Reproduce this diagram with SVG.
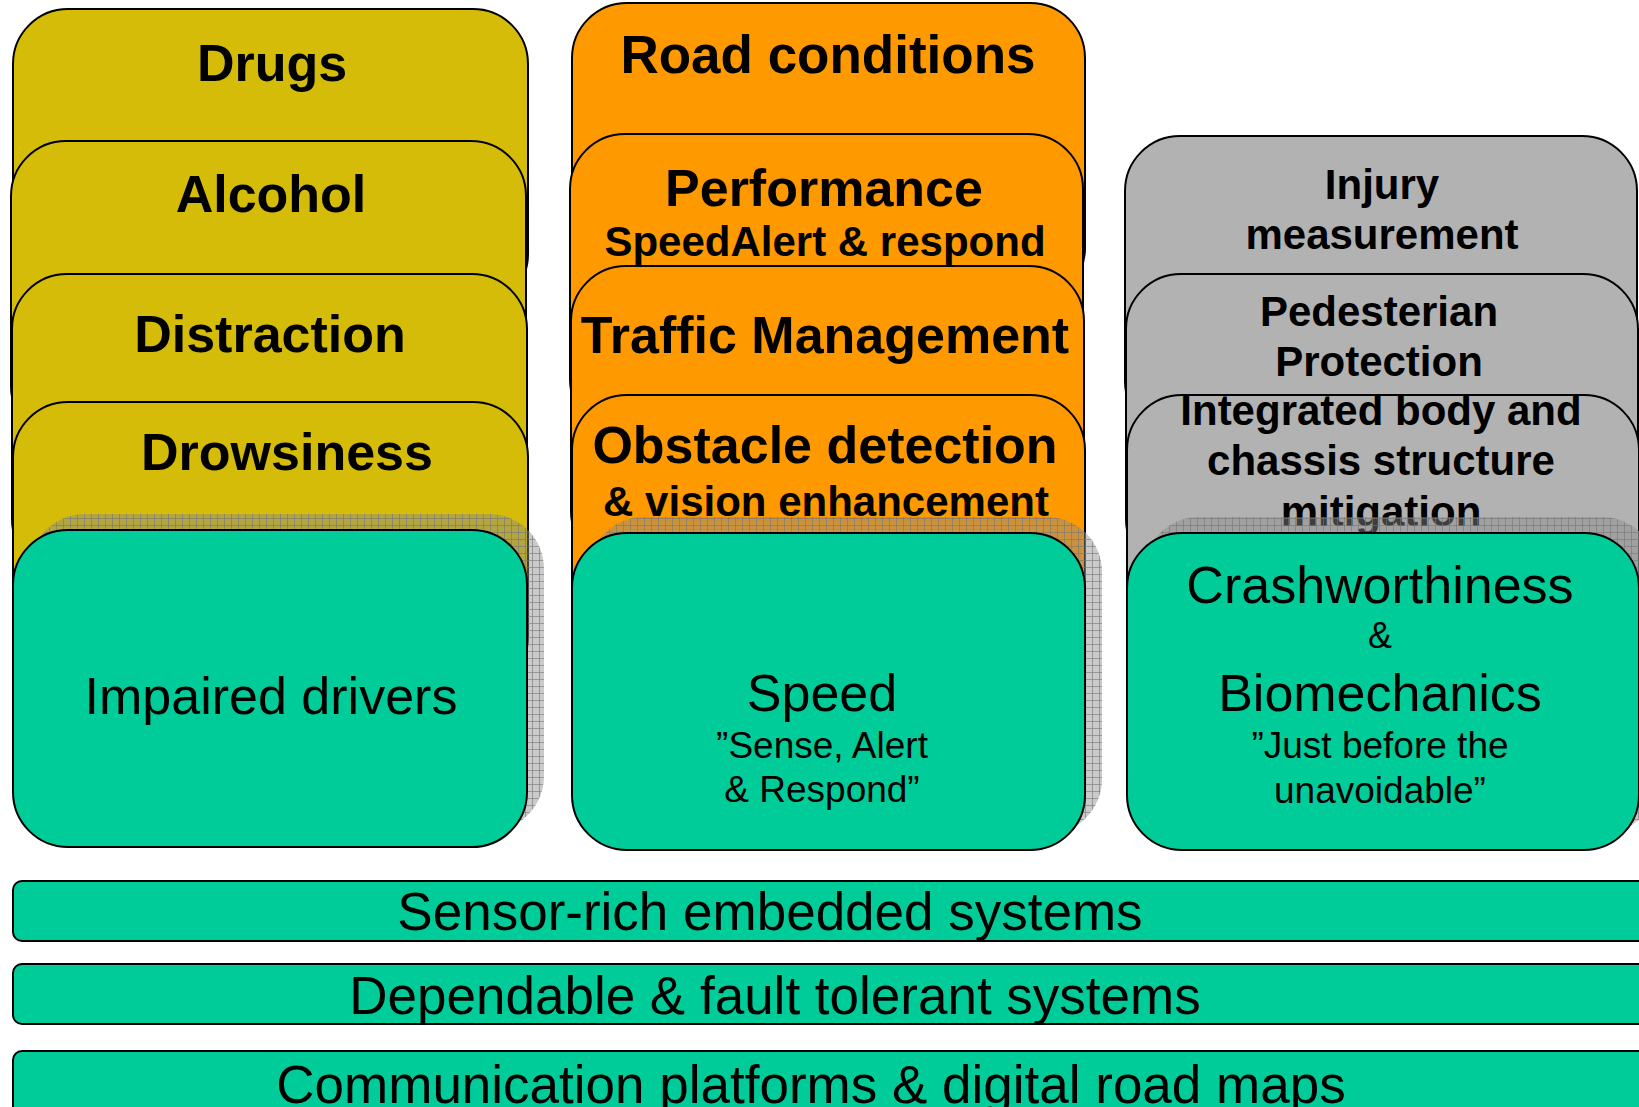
<svg xmlns="http://www.w3.org/2000/svg" width="1639" height="1107" viewBox="0 0 1639 1107">
<defs>
<pattern id="grid" width="7" height="7" patternUnits="userSpaceOnUse">
<rect width="7" height="7" fill="#8a8a8a" fill-opacity="0.45"/>
<path d="M0 0.5H7M0.5 0V7" stroke="#777" stroke-width="1" stroke-opacity="0.6"/>
</pattern>
</defs>
<style>
text{font-family:"Liberation Sans",Arial,sans-serif;text-anchor:middle;fill:#000}
.b{font-weight:bold}
.y{fill:#D4BC08;stroke:#000;stroke-width:2}
.o{fill:#FF9900;stroke:#000;stroke-width:2}
.g{fill:#B2B2B2;stroke:#000;stroke-width:2}
.t{fill:#00CC99;stroke:#000;stroke-width:2}
.sh{fill:url(#grid);stroke:none}
.h1{font-size:52px}
.h2{font-size:42px}
.m{font-size:52px}
.s{font-size:37px}
.bar{font-size:53px}
</style>

<g id="col1">
<g id="drugs"><rect class="y" x="13" y="9" width="515" height="300" rx="55"/><text class="b h1" x="272" y="81">Drugs</text></g>
<g id="alcohol"><rect class="y" x="11" y="141" width="515" height="300" rx="55"/><text class="b h1" x="271" y="212">Alcohol</text></g>
<g id="distraction"><rect class="y" x="12" y="274" width="515" height="300" rx="55"/><text class="b h1" x="270" y="352">Distraction</text></g>
<g id="drowsiness"><rect class="y" x="13" y="402" width="515" height="290" rx="55"/><text class="b h1" x="287" y="470">Drowsiness</text></g>
<g id="impaired"><rect class="sh" x="30" y="514" width="514" height="317" rx="55"/><rect class="t" x="13" y="530" width="514" height="317" rx="55"/><text class="m" x="271" y="714">Impaired drivers</text></g>
</g>

<g id="col2">
<g id="road"><rect class="o" x="572" y="3" width="513" height="300" rx="55"/><text class="b" font-size="53" x="828" y="73">Road conditions</text></g>
<g id="performance"><rect class="o" x="570" y="134" width="513" height="300" rx="55"/><text class="b h1" x="824" y="206">Performance</text><text class="b h2" x="825" y="256">SpeedAlert &amp; respond</text></g>
<g id="traffic"><rect class="o" x="571" y="266" width="513" height="300" rx="55"/><text class="b h1" x="825" y="353">Traffic Management</text></g>
<g id="obstacle"><rect class="o" x="572" y="395" width="513" height="300" rx="55"/><text class="b h1" x="825" y="463">Obstacle detection</text><text class="b" font-size="42" x="826" y="516">&amp; vision enhancement</text></g>
<g id="speed"><rect class="sh" x="589" y="517" width="513" height="317" rx="55"/><rect class="t" x="572" y="533" width="513" height="317" rx="55"/><text class="m" x="822" y="711">Speed</text><text class="s" x="822" y="758">”Sense, Alert</text><text class="s" x="822" y="802">&amp; Respond”</text></g>
</g>

<g id="col3">
<g id="injury"><rect class="g" x="1125" y="136" width="512" height="300" rx="55"/><text class="b h2" x="1382" y="199">Injury</text><text class="b h2" x="1382" y="249">measurement</text></g>
<g id="pedestrian"><rect class="g" x="1126" y="274" width="512" height="300" rx="55"/><text class="b h2" x="1379" y="326">Pedesterian</text><text class="b h2" x="1379" y="376">Protection</text></g>
<g id="integrated"><rect class="g" x="1127" y="395" width="512" height="300" rx="55"/><text class="b h2" x="1381" y="425">Integrated body and</text><text class="b h2" x="1381" y="475">chassis structure</text><text class="b h2" x="1381" y="526">mitigation</text></g>
<g id="crash"><rect class="sh" x="1144" y="517" width="513" height="317" rx="55"/><rect class="t" x="1127" y="533" width="512" height="317" rx="55"/><text class="m" font-size="53" x="1380" y="603">Crashworthiness</text><text font-size="36" x="1380" y="648">&amp;</text><text class="m" font-size="53" x="1380" y="711">Biomechanics</text><text class="s" x="1380" y="758">”Just before the</text><text class="s" x="1380" y="803">unavoidable”</text></g>
</g>

<g id="bars">
<g id="sensor"><rect class="t" x="13" y="881" width="1640" height="60" rx="9"/><text class="bar" x="770" y="930">Sensor-rich embedded systems</text></g>
<g id="dependable"><rect class="t" x="13" y="964" width="1640" height="60" rx="9"/><text class="bar" x="775" y="1014">Dependable &amp; fault tolerant systems</text></g>
<g id="communication"><rect class="t" x="13" y="1051" width="1640" height="80" rx="9"/><text class="bar" x="811" y="1103">Communication platforms &amp; digital road maps</text></g>
</g>
</svg>
